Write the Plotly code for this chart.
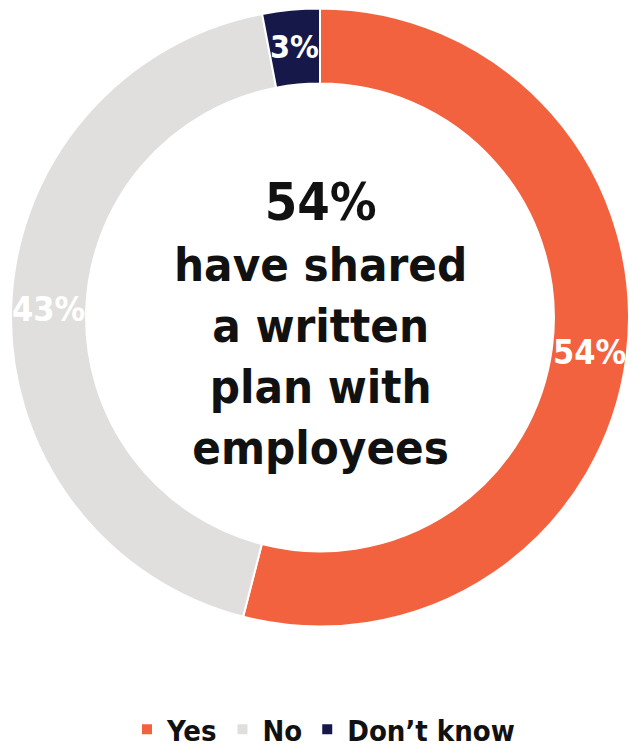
import math
import plotly.graph_objects as go

# Survey answers
labels = ["Yes", "No", "Don’t know"]
values = [54, 43, 3]
colors = ["#F3623F", "#E0DFDE", "#16184A"]
label_sizes = [34, 34, 32]

headline = "54%"
caption_lines = ["have shared", "a written", "plan with", "employees"]

FONT = "DejaVu Sans Condensed, Liberation Sans Narrow, Roboto, sans-serif"

W, H = 629, 755
cx, cy, R = 320, 317.5, 309
HOLE = 0.757

fig = go.Figure(
    go.Pie(
        labels=labels,
        values=values,
        hole=HOLE,
        sort=False,
        direction="clockwise",
        rotation=0,
        marker=dict(colors=colors, line=dict(color="white", width=2)),
        textinfo="none",
        domain=dict(
            x=[(cx - R) / W, min(1, (cx + R) / W)],
            y=[1 - (cy + R) / H, 1 - (cy - R) / H],
        ),
        hoverinfo="label+percent",
    )
)

# Percentage labels centred in the ring at each slice's mid-angle
total = sum(values)
r_mid = R * (1 + HOLE) / 2
cum = 0
for v, size in zip(values, label_sizes):
    theta = 2 * math.pi * (cum + v / 2) / total  # clockwise from 12 o'clock
    px = cx + r_mid * math.sin(theta)
    py = cy - r_mid * math.cos(theta)
    fig.add_annotation(
        text=f"<b>{round(100 * v / total)}%</b>",
        x=px / W,
        y=1 - py / H,
        xref="paper",
        yref="paper",
        xanchor="center",
        yanchor="middle",
        showarrow=False,
        font=dict(family=FONT, size=size, color="white"),
    )
    cum += v

center_text = (
    f"<span style='font-size:52px'><b>{headline}</b></span><br>"
    + "<br>".join("<b>" + s + "</b>" for s in caption_lines)
)
fig.add_annotation(
    text=center_text,
    x=cx / W,
    y=1 - 323 / H,
    xref="paper",
    yref="paper",
    xanchor="center",
    yanchor="middle",
    showarrow=False,
    align="center",
    font=dict(family=FONT, size=47, color="#111111"),
)

fig.update_layout(
    width=W,
    height=H,
    margin=dict(l=0, r=0, t=0, b=0),
    paper_bgcolor="white",
    plot_bgcolor="white",
    showlegend=True,
    legend=dict(
        orientation="h",
        x=323.5 / W,
        xanchor="center",
        y=0,
        yanchor="bottom",
        font=dict(family=FONT, size=29, color="#111111", weight="bold"),
        itemclick=False,
        itemdoubleclick=False,
    ),
)

fig.write_html("out.html", config={"displayModeBar": False})
